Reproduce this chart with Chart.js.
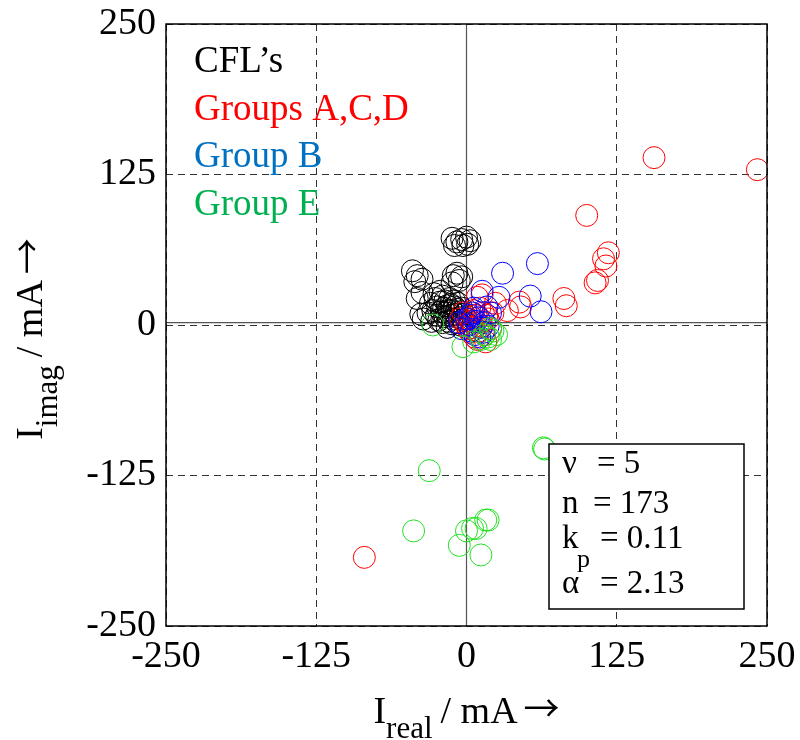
<!DOCTYPE html>
<html>
<head>
<meta charset="utf-8">
<script src="https://cdn.jsdelivr.net/npm/chart.js@4.4.0/dist/chart.umd.min.js"></script>
<style>
  html, body { margin: 0; padding: 0; background: #fff; }
  #wrap { width: 800px; height: 740px; }
</style>
</head>
<body>
<div id="wrap"><canvas id="chart" width="800" height="740"></canvas></div>
<script>
// [I_real, I_imag] in mA
const cflPoints = [
    [-12, 72], [-8, 69], [-4, 71], [0, 73], [3, 70], [-10, 66], [-3, 66], [1, 67],
    [-45, 45], [-41, 41], [-37, 38], [-43, 36], [-41, 22], [-37, 27], [-36, 5], [-38, 9],
    [-11, 41], [-8, 43], [-6, 37], [-4, 40], [-12, 35],
    [-30, 18], [-28, 12], [-26, 22], [-25, 8], [-24, 15], [-23, 4], [-22, 19], [-21, 11],
    [-20, 24], [-20, 2], [-19, 14], [-18, 7], [-18, 20], [-17, 10], [-16, 16], [-15, 3],
    [-15, 12], [-14, 22], [-13, 8], [-13, 17], [-12, 1], [-12, 12], [-11, 5], [-10, 15],
    [-10, 20], [-9, 9], [-8, 2], [-8, 13], [-7, 18], [-6, 6], [-5, 11], [-5, 0],
    [-4, 14], [-3, 4], [-2, 9], [-27, 26], [-32, 10], [-29, 3], [-22, 28], [-16, -2]
];
const groupACDPoints = [
    [156, 139], [242, 129], [100, 91], [118, 60], [114, 55], [116, 49], [109, 37], [107, 35],
    [81, 22], [83, 16], [44, 19], [34, 12], [45, 15], [13, 25], [9, 23], [24, 18], [-85, -193],
    [2, 5], [5, -2], [8, 8], [10, -5], [12, 2], [6, 12], [15, -8], [3, -6], [18, 5], [20, -3],
    [7, -10], [11, 14], [14, 10], [0, 0], [4, 3], [9, -12], [16, -14], [1, -3], [13, -1],
    [17, 8], [6, -4], [22, 10], [-5, 5], [-3, 10]
];
const groupBPoints = [
    [59, 51], [30, 43], [53, 24], [62, 11], [27, 23], [13, 28], [17, 15], [5, 10], [8, 3],
    [12, -2], [2, 0], [4, -5], [10, 6], [15, 2], [7, -8], [20, 10], [0, 5], [14, -6],
    [3, 8], [18, -1], [6, 14], [11, -10], [-6, 2], [-4, -3]
];
const groupEPoints = [
    [-31, -121], [-44, -171], [0, -171], [-6, -183], [12, -191], [8, -169], [16, -162],
    [18, -162], [5, -169], [64, -102], [65, -103], [-28, 0], [-3, -18], [22, -5], [20, -3],
    [15, -8], [12, -12], [6, -14], [18, -10], [20, -12], [25, -8]
];

const axisTicks = [-250, -125, 0, 125, 250];
const legendNames = ["CFL\u2019s", "Groups A,C,D", "Group B", "Group E"];
const legendColors = ["#000000", "#ff0000", "#0070c0", "#00b050"];
const markerColors = ["#000000", "#ff0000", "#0000ff", "#22e022"];
const statNames = ["\u03bd", "n", "k", "\u03b1"];
const statValues = ["5", "173", "0.11", "2.13"];
const zeroLineY = 2;

const serif = "'Liberation Serif', 'DejaVu Serif', serif";
const mainFont = "38px " + serif;
const subFont = "31px " + serif;
const arrowFont = "36px 'Noto Sans CJK SC'";

function toXY(points) {
    return points.map(p => ({ x: p[0], y: p[1] }));
}

function makeSet(label, points, color, order) {
    return {
        label: label,
        data: toXY(points),
        borderColor: color,
        backgroundColor: 'rgba(0,0,0,0)',
        borderWidth: 1,
        pointRadius: 11,
        pointHoverRadius: 11,
        order: order
    };
}

// "I" + subscript + " / mA →"
function drawAxisTitle(ctx, sub, x, y) {
    ctx.font = mainFont;
    ctx.fillText("I", x, y);
    x += ctx.measureText("I").width;
    ctx.font = subFont;
    ctx.fillText(sub, x, y + 15);
    x += ctx.measureText(sub).width + 8;
    ctx.font = mainFont;
    ctx.fillText("/ mA", x, y);
    x += ctx.measureText("/ mA").width + 6;
    ctx.font = arrowFont;
    ctx.fillText("\u2192", x, y - 1);
}

function axisTitleWidth(ctx, sub) {
    ctx.font = mainFont;
    let w = ctx.measureText("I").width + ctx.measureText("/ mA").width + 14;
    ctx.font = subFont;
    w += ctx.measureText(sub).width;
    ctx.font = arrowFont;
    w += ctx.measureText("\u2192").width;
    return w;
}

// frame, solid zero lines, legend text, stats box, axis titles
const decorations = {
    id: 'decorations',
    beforeDatasetsDraw(chart) {
        const { ctx, chartArea: a, scales } = chart;
        const x0 = scales.x.getPixelForValue(0);
        const y0 = scales.y.getPixelForValue(zeroLineY);
        ctx.save();
        ctx.strokeStyle = '#555';
        ctx.lineWidth = 1.2;
        ctx.beginPath();
        ctx.moveTo(a.left, y0); ctx.lineTo(a.right, y0);
        ctx.moveTo(x0, a.top); ctx.lineTo(x0, a.bottom);
        ctx.stroke();

        ctx.font = "37px " + serif;
        ctx.textBaseline = 'alphabetic';
        legendNames.forEach((name, i) => {
            ctx.fillStyle = legendColors[i];
            ctx.fillText(name, a.left + 28, a.top + 48 + i * 47.7);
        });
        ctx.restore();
    },
    afterDatasetsDraw(chart) {
        const { ctx, chartArea: a } = chart;
        ctx.save();
        // stats box
        const bx = a.right - 218, by = a.bottom - 182, bw = 195, bh = 165;
        ctx.fillStyle = '#fff';
        ctx.fillRect(bx, by, bw, bh);
        ctx.strokeStyle = '#000';
        ctx.lineWidth = 1.5;
        ctx.strokeRect(bx, by, bw, bh);

        ctx.fillStyle = '#000';
        ctx.font = "33px " + serif;
        const baselines = [29, 69, 104, 149];
        const eqX = [48, 44, 51, 51];
        statNames.forEach((s, i) => {
            ctx.fillText(s, bx + 13, by + baselines[i]);
            ctx.fillText("= " + statValues[i], bx + eqX[i], by + baselines[i]);
        });
        ctx.font = "26px " + serif;
        ctx.fillText("p", bx + 28, by + 123);

        // frame
        ctx.lineWidth = 1.5;
        ctx.strokeRect(a.left, a.top, a.right - a.left, a.bottom - a.top);

        // x title
        const cx = (a.left + a.right) / 2;
        drawAxisTitle(ctx, "real", cx - axisTitleWidth(ctx, "real") / 2, 723);

        // y title
        ctx.translate(42, (a.top + a.bottom) / 2 + 14);
        ctx.rotate(-Math.PI / 2);
        drawAxisTitle(ctx, "imag", -axisTitleWidth(ctx, "imag") / 2, 0);
        ctx.restore();
    }
};

function axisOptions(isY) {
    return {
        type: 'linear',
        min: -250,
        max: 250,
        afterBuildTicks: scale => { scale.ticks = axisTicks.map(v => ({ value: v })); },
        afterFit: scale => {
            if (isY) scale.width = 166;
            else scale.height = 114;
            scale.paddingTop = 0;
            scale.paddingBottom = 0;
            scale.paddingLeft = 0;
            scale.paddingRight = 0;
        },
        grid: {
            color: '#333',
            lineWidth: 1,
            drawTicks: false
        },
        border: {
            display: false,
            dash: [7, 5]
        },
        ticks: {
            color: '#000',
            padding: isY ? 10 : 8,
            font: { family: serif, size: 38 },
            maxRotation: 0
        }
    };
}

new Chart(document.getElementById('chart').getContext('2d'), {
    type: 'scatter',
    data: {
        datasets: [
            makeSet(legendNames[0], cflPoints, markerColors[0], 4),
            makeSet(legendNames[1], groupACDPoints, markerColors[1], 3),
            makeSet(legendNames[2], groupBPoints, markerColors[2], 2),
            makeSet(legendNames[3], groupEPoints, markerColors[3], 1)
        ]
    },
    options: {
        responsive: false,
        animation: false,
        layout: { padding: { top: 24, right: 33, left: 0, bottom: 0 } },
        plugins: {
            legend: { display: false },
            tooltip: { enabled: false }
        },
        scales: {
            x: axisOptions(false),
            y: axisOptions(true)
        }
    },
    plugins: [decorations]
});
</script>
</body>
</html>
